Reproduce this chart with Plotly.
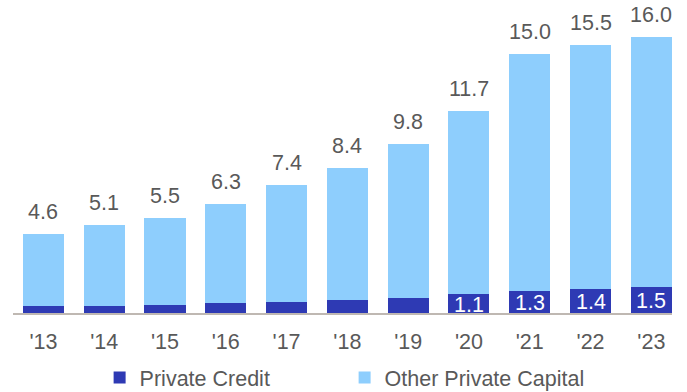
import plotly.graph_objects as go

years = ["'13", "'14", "'15", "'16", "'17", "'18", "'19", "'20", "'21", "'22", "'23"]
totals = [4.6, 5.1, 5.5, 6.3, 7.4, 8.4, 9.8, 11.7, 15.0, 15.5, 16.0]
private_credit = [0.43, 0.43, 0.48, 0.58, 0.64, 0.75, 0.85, 1.1, 1.3, 1.4, 1.5]
credit_labels = ["", "", "", "", "", "", "", "1.1", "1.3", "1.4", "1.5"]
other_capital = [round(t - c, 2) for t, c in zip(totals, private_credit)]

DARK = "#2E3AB4"
LIGHT = "#8ECEFD"
GRAY = "#595959"
FONT = "Liberation Sans, Arial, sans-serif"
FS = 21.5

fig = go.Figure()
fig.add_trace(go.Bar(x=years, y=private_credit, name="Private Credit",
                     marker=dict(color=DARK, line=dict(width=0)), hoverinfo="skip"))
fig.add_trace(go.Bar(x=years, y=other_capital, name="Other Private Capital",
                     marker=dict(color=LIGHT, line=dict(width=0)), hoverinfo="skip"))

annotations = []
for yr, tot in zip(years, totals):
    annotations.append(dict(x=yr, y=tot, text=f"{tot:.1f}", showarrow=False,
                            xanchor="center", yanchor="bottom", yshift=8,
                            font=dict(size=FS, color=GRAY, family=FONT)))
for yr, c, lab in zip(years, private_credit, credit_labels):
    if lab:
        annotations.append(dict(x=yr, y=c / 2, text=lab, showarrow=False,
                                xanchor="center", yanchor="middle", yshift=-1,
                                font=dict(size=FS, color="white", family=FONT)))

fig.update_layout(
    barmode="stack",
    bargap=0.325,
    width=687, height=392,
    margin=dict(l=13, r=15, t=2, b=79, pad=0),
    plot_bgcolor="white", paper_bgcolor="white",
    font=dict(family=FONT, size=FS, color=GRAY),
    showlegend=True,
    legend=dict(orientation="h", xref="container", x=0.145, xanchor="left",
                yref="container", y=0.037, yanchor="middle",
                font=dict(size=FS, color=GRAY), entrywidth=200, traceorder="normal",
                bgcolor="rgba(0,0,0,0)"),
    annotations=annotations,
    xaxis=dict(range=[-0.5, 10.34], showline=True, linecolor="#BFB8B2", linewidth=1.5,
               ticks="outside", ticklen=8, tickcolor="rgba(0,0,0,0)",
               tickfont=dict(size=FS, color=GRAY, family=FONT), showgrid=False, fixedrange=True),
    yaxis=dict(range=[0, 18], visible=False, showgrid=False, fixedrange=True),
)

fig.write_html("out.html")
